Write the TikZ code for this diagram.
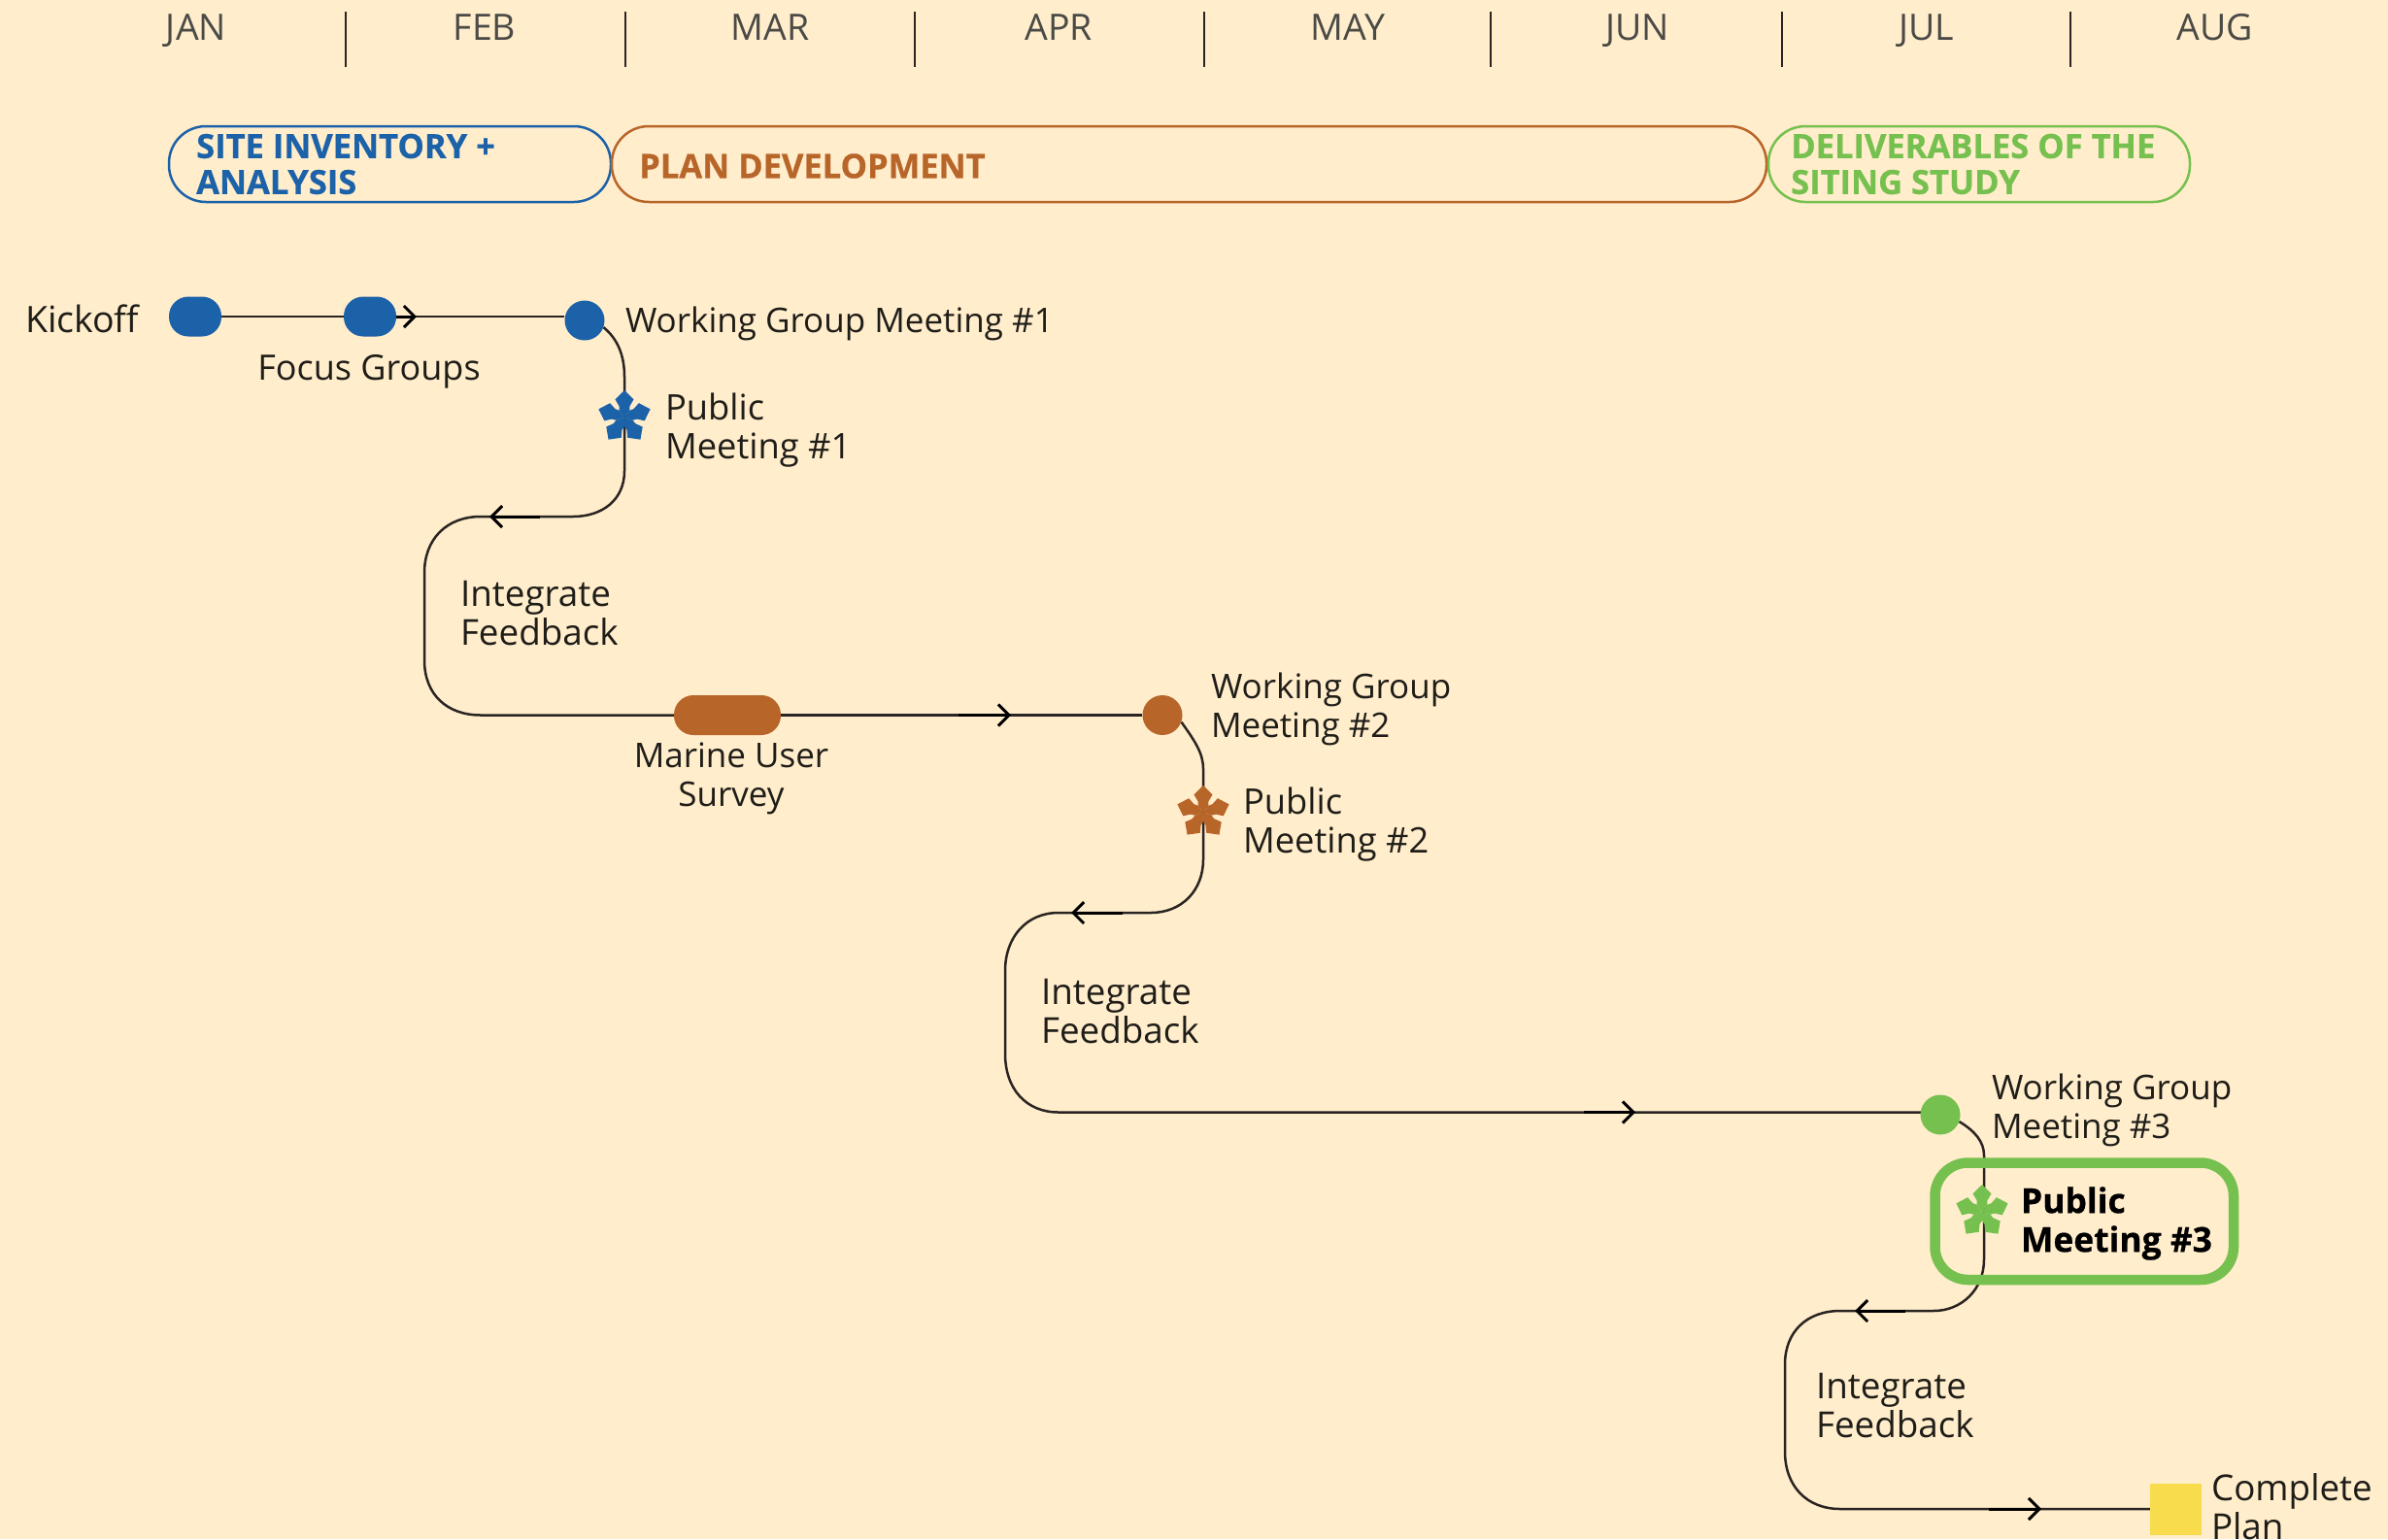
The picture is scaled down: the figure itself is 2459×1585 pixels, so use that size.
\documentclass[tikz,border=0pt]{standalone}
\usepackage{fontspec}
\setmainfont{Open Sans}
\newfontfamily\hvy{Open Sans}[BoldFeatures={FakeBold=0.6}]
\usetikzlibrary{arrows.meta,backgrounds}
\definecolor{bgc}{HTML}{FFEDCC}
\definecolor{bluec}{HTML}{1C62A8}
\definecolor{orangec}{HTML}{B8652A}
\definecolor{greenc}{HTML}{76C04F}
\definecolor{yellowc}{HTML}{F9DC4E}
\definecolor{linec}{HTML}{2A2522}
\definecolor{monthc}{HTML}{4A4A46}
\tikzset{
  x=1pt,y=-1pt,
  fs/.style={font=\fontsize{#1}{40}\selectfont},
  txt/.style={inner sep=0,outer sep=0,text=black!88!bgc,align=left,anchor=west},
  ctxt/.style={txt,align=center,anchor=center},
  month/.style={inner sep=0,anchor=base,text=monthc,font=\fontsize{37.5}{40}\selectfont},
  tick/.style={line width=2.5pt,draw=linec},
  phase/.style={draw=#1,line width=2.5pt,rounded corners=38pt,inner sep=0,minimum height=78pt},
  phasetxt/.style={inner sep=0,text=#1,align=left,anchor=west,font=\hvy\fontsize{34.5}{37}\selectfont\bfseries},
  pill/.style={fill=#1,rounded corners=20pt,inner sep=0,minimum height=41pt},
  dot/.style={fill=#1,circle,inner sep=0,minimum size=41pt},
  conn/.style={draw=linec,line width=2.5pt},
  chev/.style={draw=black,line width=3pt,-{Straight Barb[length=11pt,width=22pt,line width=3pt]}},
  petalstar/.pic={
    \foreach \a in {90,162,234,306,18}{
      \fill[#1] (\a-36:9pt) -- (\a-25:13pt) -- (\a-27:21pt) -- (\a:28pt) -- (\a+27:21pt) -- (\a+25:13pt) -- (\a+36:9pt) -- (0pt,0pt) -- cycle;
    }
  }
}
\begin{document}
\begin{tikzpicture}
\clip (0,0) rectangle (2459,1585);
\useasboundingbox (0,0) rectangle (2459,1585);
\begin{scope}[on background layer]
\fill[bgc] (0,0) rectangle (2459,1585);
\end{scope}

% months
\node[month] (jan) at (202,41) {JAN};
\node[month] (feb) at (499,41) {FEB};
\node[month] (mar) at (793,41) {MAR};
\node[month] (apr) at (1090,41) {APR};
\node[month] (may) at (1388,41) {MAY};
\node[month] (jun) at (1686,41) {JUN};
\node[month] (jul) at (1984,41) {JUL};
\node[month] (aug) at (2281,41) {AUG};
\foreach \t in {356,644,942,1240,1535,1835,2132}{\draw[tick] (\t,12) -- (\t,69);}

% phases
\node[phase=bluec,minimum width=455pt] (p1) at (401.5,169) {};
\node[phase=orangec,minimum width=1189pt] (p2) at (1224.5,169) {};
\node[phase=greenc,minimum width=434pt] (p3) at (2038,169) {};
\node[phasetxt=bluec] (p1t) at (202,169) {SITE INVENTORY +\\ANALYSIS};
\node[phasetxt=orangec] (p2t) at (658,171) {PLAN DEVELOPMENT};
\node[phasetxt=greenc] (p3t) at (1844,169) {DELIVERABLES OF THE\\SITING STUDY};

% markers
\node[pill=bluec,minimum width=54pt] (kick) at (201,326) {};
\node[pill=bluec,minimum width=54pt] (fg) at (381,326) {};
\node[dot=bluec] (wg1) at (602,330) {};
\coordinate (s1) at (643,430);
\node[pill=orangec,minimum width=110pt] (mu) at (749,736.5) {};
\node[dot=orangec] (wg2) at (1197,736.5) {};
\coordinate (s2) at (1239,837);
\node[dot=greenc] (wg3) at (1998,1148) {};
\coordinate (s3) at (2041,1248);
\node[fill=yellowc,inner sep=0,minimum width=53pt,minimum height=53pt] (plan) at (2240.5,1554.5) {};

% highlight
\draw[greenc,line width=10.5pt,rounded corners=34pt] (1992.5,1197.5) rectangle (2300,1318);

% connectors
\begin{scope}[on background layer]
\draw[conn] (kick) -- (fg);
\draw[conn] (fg.east) -- (fg.east -| wg1.west);
\draw[conn] (wg1.-20) .. controls (636,349) and (643,366) .. (643,388) -- (s1);
\draw[conn] (s1) -- (643,485) .. controls (643,515) and (620,532) .. (590,532) -- (495,532)
   .. controls (460,532) and (437,555) .. (437,590) -- (437,680)
   .. controls (437,715) and (460,736.5) .. (495,736.5) -- (mu.west);
\draw[conn] (mu.east) -- (wg2.west);
\draw[conn] (wg2.-20) .. controls (1231,764) and (1239,776) .. (1239,792) -- (s2);
\draw[conn] (s2) -- (1239,885) .. controls (1239,917) and (1217,940) .. (1185,940) -- (1090,940)
   .. controls (1057,940) and (1035,965) .. (1035,1000) -- (1035,1085)
   .. controls (1035,1122) and (1057,1145.5) .. (1090,1145.5) -- (1990,1145.5);
\draw[conn] (wg3.-20) .. controls (2034,1165) and (2043,1176) .. (2043,1190) -- (2043,1246);
\draw[conn] (2043,1246) -- (2043,1297) .. controls (2043,1328) and (2020,1350) .. (1991,1350) -- (1895,1350)
   .. controls (1860,1350) and (1838,1372) .. (1838,1405) -- (1838,1495)
   .. controls (1838,1530) and (1860,1554) .. (1895,1554) -- (2214,1554);
\end{scope}

% arrows
\coordinate (a1) at (408,326); \coordinate (a1e) at (429,326);
\coordinate (a2) at (556,532); \coordinate (a2e) at (504,532);
\coordinate (a3) at (987,736.5); \coordinate (a3e) at (1041,736.5);
\coordinate (a4) at (1156,940); \coordinate (a4e) at (1103,940);
\coordinate (a5) at (1631,1145.5); \coordinate (a5e) at (1684,1145.5);
\coordinate (a6) at (1962,1350); \coordinate (a6e) at (1910,1350);
\coordinate (a7) at (2048,1554); \coordinate (a7e) at (2102,1554);
\draw[chev] (a1) -- (a1e);
\draw[chev] (a2) -- (a2e);
\draw[chev] (a3) -- (a3e);
\draw[chev] (a4) -- (a4e);
\draw[chev] (a5) -- (a5e);
\draw[chev] (a6) -- (a6e);
\draw[chev] (a7) -- (a7e);

% stars
\pic at (s1) {petalstar=bluec};
\pic at (s2) {petalstar=orangec};
\pic at (s3) {petalstar=greenc};

% labels
\node[txt,fs=37.5] (l1) at (26,328) {Kickoff};
\node[ctxt,fs=36] (l2) at (380,383) {Focus Groups};
\node[txt,fs=35] (l3) at (644,333) {Working Group Meeting \#1};
\node[txt,fs=36.3] (l4) at (685,443) {Public\\Meeting \#1};
\node[txt,fs=36.8] (l5) at (474,632) {Integrate\\Feedback};
\node[ctxt,fs=35] (l6) at (753,802) {Marine User\\Survey};
\node[txt,fs=35] (l7) at (1247,730) {Working Group\\Meeting \#2};
\node[txt,fs=36.3] (l8) at (1280,849) {Public\\Meeting \#2};
\node[txt,fs=36.8] (l9) at (1072,1042) {Integrate\\Feedback};
\node[txt,fs=35] (l10) at (2051,1143) {Working Group\\Meeting \#3};
\node[txt,font=\hvy\fontsize{35.4}{40}\selectfont\bfseries,text=black] (l11) at (2081,1260) {Public\\Meeting \#3};
\node[txt,fs=36.8] (l12) at (1870,1448) {Integrate\\Feedback};
\node[txt,fs=36.8] (l13) at (2277,1552) {Complete\\Plan};
\end{tikzpicture}
\end{document}
